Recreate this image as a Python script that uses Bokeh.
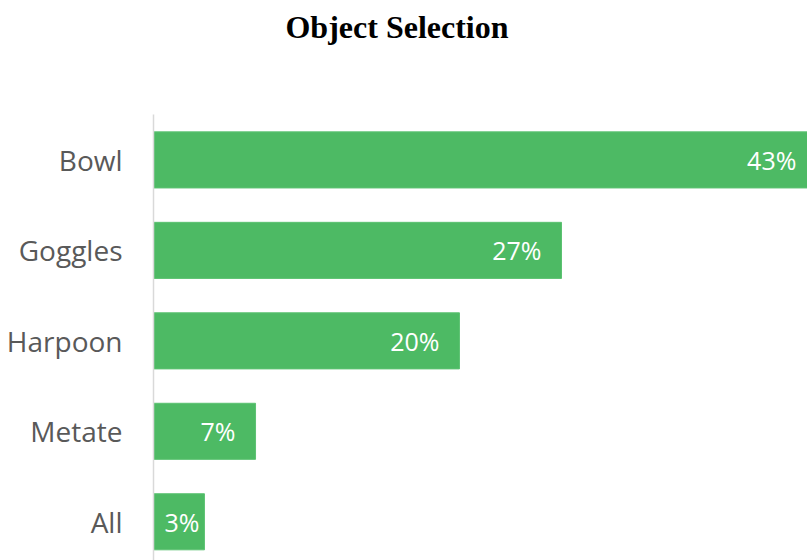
from bokeh.plotting import figure
from bokeh.models import Range1d, ColumnDataSource, Label
from bokeh.core.properties import value
from bokeh.embed import file_html
from bokeh.resources import INLINE

title_text = "Object Selection"
categories = ["Bowl", "Goggles", "Harpoon", "Metate", "All"]
shares = [0.4333, 0.2667, 0.2000, 0.0667, 0.0333]

W, H = 807, 560
LEFT, TOP = 153, 114
frame_w = W - LEFT
x_end = 42.75  # percent shown across the frame (Bowl bar runs past the edge)
px_per_unit = frame_w / x_end

n = len(categories)
ypos = [n - 1 - i for i in range(n)]
pct = [s * 100 for s in shares]
labels = [f"{round(v):d}%" for v in pct]

label_font_px = 25
offsets = []
for v, lab in zip(pct, labels):
    est_w = label_font_px * (0.57 * (len(lab) - 1) + 0.83)
    length_px = v * px_per_unit
    offsets.append(-min(20.0, max(0.0, length_px - 11 - est_w)))

src = ColumnDataSource(dict(y=ypos, right=pct, label=labels, xoff=offsets, cat=categories))

p = figure(width=W, height=H, output_backend="svg", toolbar_location=None,
           x_range=Range1d(0, x_end), y_range=Range1d(-0.428, 4.502),
           min_border_left=LEFT, min_border_right=0, min_border_bottom=0,
           min_border_top=TOP)

# chart title in the top panel, centred on the whole canvas
title = Label(x=W / 2 - LEFT - 7, y=TOP - 37 + 11, x_units="screen", y_units="screen",
              text=title_text, text_align="center", text_baseline="alphabetic",
              text_font="Liberation Serif", text_font_style="bold",
              text_font_size="32px", text_color="#000000")
p.add_layout(title, "above")

p.hbar(y="y", left=0, right="right", height=0.62, source=src,
       fill_color="#4DBA64", line_color="#5CC272", line_width=1)

p.text(x="right", y="y", text="label", source=src, x_offset="xoff",
       text_align="right", text_baseline="middle",
       text_font=value("Open Sans"), text_font_size=f"{label_font_px}px",
       text_color="white")

p.xaxis.visible = False
p.xgrid.visible = False
p.ygrid.visible = False
p.outline_line_color = None

ax = p.yaxis[0]
ax.ticker = ypos
ax.major_label_overrides = {y: c for y, c in zip(ypos, categories)}
ax.major_tick_out = 0
ax.major_tick_in = 0
ax.minor_tick_out = 0
ax.minor_tick_in = 0
ax.major_label_standoff = 31
ax.major_label_text_font = "Open Sans"
ax.major_label_text_font_size = "28px"
ax.major_label_text_color = "#595959"
ax.axis_line_color = "#D9D9D9"
ax.axis_line_width = 1.5

open("out.html", "w").write(file_html(p, INLINE))
